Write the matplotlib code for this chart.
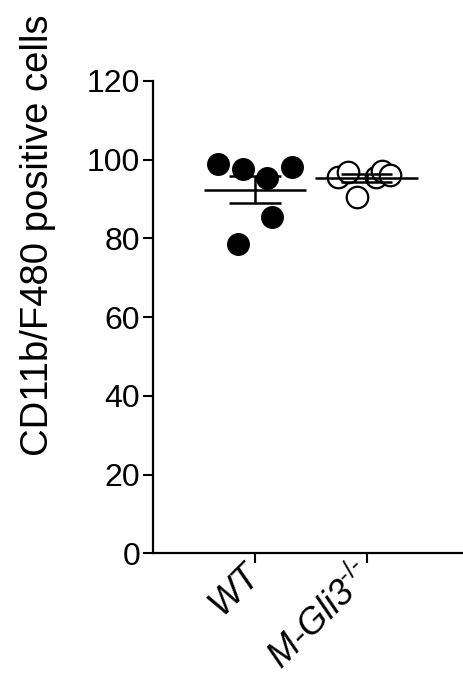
import numpy as np
import matplotlib.pyplot as plt

plt.rcParams['font.family'] = ['Liberation Sans', 'DejaVu Sans']
plt.rcParams['mathtext.fontset'] = 'custom'
plt.rcParams['mathtext.it'] = 'Liberation Sans:italic'
plt.rcParams['mathtext.rm'] = 'Liberation Sans'

groups = ["WT", "M-Gli3"]
wt_values = [98.9, 97.6, 95.3, 98.1, 85.3, 78.5]
wt_offsets = [-0.33, -0.11, 0.11, 0.33, 0.15, -0.15]
ko_values = [95.6, 96.9, 90.5, 95.6, 97.2, 96.1]
ko_offsets = [-0.26, -0.17, -0.09, 0.08, 0.14, 0.21]
y_ticks = [0, 20, 40, 60, 80, 100, 120]


def mean_sem(vals):
    v = np.asarray(vals)
    return v.mean(), v.std(ddof=1) / np.sqrt(len(v))


fig = plt.figure(figsize=(4.63, 6.96), dpi=100)
ax = fig.add_axes([0.330, 0.205, 0.670, 0.679])

# raw points
ax.plot(1 + np.array(wt_offsets), wt_values, 'o', ms=15.5, color='black',
        zorder=3, clip_on=False)
ax.plot(2 + np.array(ko_offsets), ko_values, 'o', ms=15.5, mfc='white',
        mec='black', mew=1.6, zorder=3, clip_on=False)

# mean +/- SEM
for x, vals in [(1, wt_values), (2, ko_values)]:
    m, s = mean_sem(vals)
    ax.hlines(m, x - 0.46, x + 0.46, color='black', lw=1.8, zorder=4)
    ax.vlines(x, m - s, m + s, color='black', lw=1.8, zorder=4)
    ax.hlines([m - s, m + s], x - 0.23, x + 0.23, color='black', lw=1.8,
              zorder=4)

ax.set_xlim(0.084, 2.862)
ax.set_ylim(0, 120)
ax.set_yticks(y_ticks)
ax.set_xticks([1, 2])
# hyphens (U+2010) so the superscript does not turn into minus signs
ax.set_xticklabels([groups[0], groups[1] + "$^{\\mathit{\u2010/\u2010}}$"],
                   rotation=45, ha='right', va='center',
                   rotation_mode='anchor', fontstyle='italic', fontsize=26)
ax.tick_params(axis='y', labelsize=23, length=7, width=1.5, pad=2)
ax.tick_params(axis='x', length=7, width=1.5, pad=5)

for side in ['top', 'right']:
    ax.spines[side].set_visible(False)
for side in ['left', 'bottom']:
    ax.spines[side].set_linewidth(1.6)

fig.text(38 / 463, 1 - 235 / 696, "CD11b/F480 positive cells", rotation=90,
         ha='center', va='center', fontsize=27.5)

fig.savefig("out.png", dpi=100)
